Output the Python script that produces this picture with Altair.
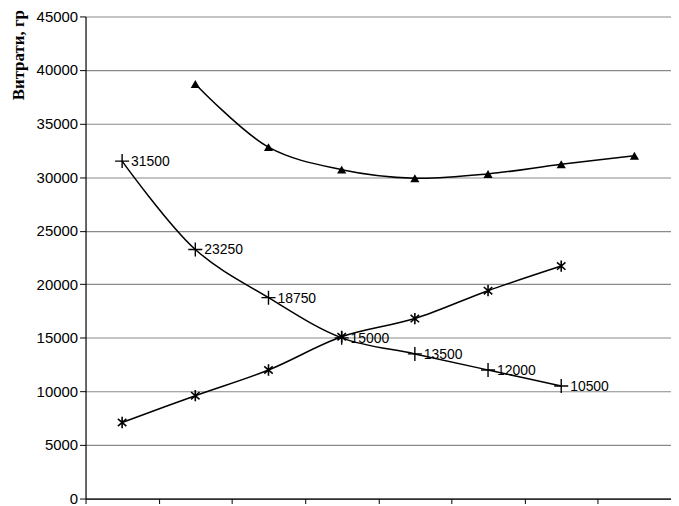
import altair as alt
import pandas as pd

categories = [1, 2, 3, 4, 5, 6, 7, 8]
triangle_x = [2, 3, 4, 5, 6, 7, 8]
triangle_vals = [38700, 32800, 30700, 29900, 30300, 31200, 32000]
falling_x = [1, 2, 3, 4, 5, 6, 7]
falling_vals = [31500, 23250, 18750, 15000, 13500, 12000, 10500]
rising_x = [1, 2, 3, 4, 5, 6, 7]
rising_vals = [7100, 9600, 12000, 15100, 16800, 19400, 21700]
y_ticks = [0, 5000, 10000, 15000, 20000, 25000, 30000, 35000, 40000, 45000]

tri = pd.DataFrame({"c": triangle_x, "v": triangle_vals})
fall = pd.DataFrame({"c": falling_x, "v": falling_vals, "lbl": [str(v) for v in falling_vals]})
rise = pd.DataFrame({"c": rising_x, "v": rising_vals})

xenc = alt.X("c:O", scale=alt.Scale(domain=categories, paddingInner=0, paddingOuter=0),
             axis=alt.Axis(labels=False, title=None, domainColor="black", tickColor="black",
                           tickSize=5, tickBand="extent", grid=False, domainWidth=1.2))
yenc = alt.Y("v:Q", scale=alt.Scale(domain=[0, 45000], nice=False),
             axis=alt.Axis(values=y_ticks, format="d", title="Витрати, гр",
                           titleFont="Liberation Serif", titleFontSize=17, titleFontWeight="bold",
                           titleAngle=270, titleAlign="right", titleBaseline="middle",
                           titleX=-67, titleY=-7, titleColor="black",
                           labelFont="Liberation Sans", labelFontSize=15, labelColor="black",
                           tickColor="black", tickSize=6, domainColor="black", domainWidth=1.2,
                           gridColor="#8a8a8a", gridWidth=1.1, labelPadding=2))

plus_path = "M-1,0L1,0M0,-1L0,1"
star_path = "M0,-1L0,1M-0.75,-0.65L0.75,0.65M-0.75,0.65L0.75,-0.65"
interp = "catmull-rom"

line_tri = alt.Chart(tri).mark_line(color="black", strokeWidth=1.5, interpolate=interp).encode(x=xenc, y=yenc)
pts_tri = alt.Chart(tri).mark_point(shape="triangle-up", filled=True, color="black", size=85, opacity=1).encode(x=xenc, y=yenc)

line_fall = alt.Chart(fall).mark_line(color="black", strokeWidth=1.5, interpolate=interp).encode(x=xenc, y=yenc)
pts_fall = alt.Chart(fall).mark_point(shape=plus_path, filled=False, color="black", size=200, strokeWidth=1.4, opacity=1).encode(x=xenc, y=yenc)
lbl_fall = alt.Chart(fall).mark_text(align="left", baseline="middle", dx=9, dy=1, font="Liberation Sans",
                                     fontSize=14, color="black").encode(x=xenc, y=yenc, text="lbl:N")

line_rise = alt.Chart(rise).mark_line(color="black", strokeWidth=1.5, interpolate=interp).encode(x=xenc, y=yenc)
pts_rise = alt.Chart(rise).mark_point(shape=star_path, filled=False, color="black", size=130, strokeWidth=1.6, opacity=1).encode(x=xenc, y=yenc)

chart = alt.layer(line_tri, pts_tri, line_fall, pts_fall, lbl_fall, line_rise, pts_rise).properties(
    width=589, height=485,
    autosize=alt.AutoSizeParams(type="none"),
    padding={"left": 78, "top": 7, "right": 0, "bottom": 6},
    background="white",
).configure_view(stroke=None)

chart.save("out.html", embed_options={"renderer": "svg", "actions": False})
